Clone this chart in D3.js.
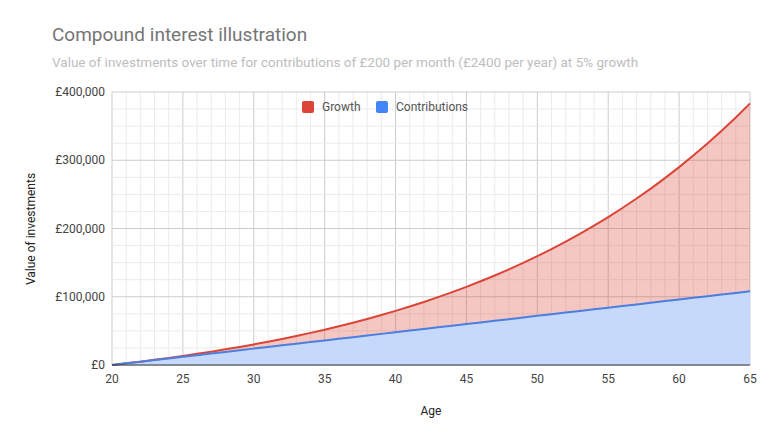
<!DOCTYPE html>
<meta charset="utf-8">
<style>
body{margin:0;background:#fff;font-family:Roboto,sans-serif;}
text{font-family:Roboto,sans-serif;}
</style>
<body>
<script src="https://d3js.org/d3.v7.min.js"></script>
<script>
var ages=d3.range(20,66);
var total=[0,2400,4920,7566,10344,13261,16325,19541,22918,26464,30187,34096,38201,42511,47037,51789,56778,62017,67518,73294,79358,85726,92413,99433,106805,114545,122672,131206,140166,149574,159453,169826,180717,192153,204161,216769,230007,243908,258503,273828,289919,306815,324556,343184,362743,383280];
var contributions=[0,2400,4800,7200,9600,12000,14400,16800,19200,21600,24000,26400,28800,31200,33600,36000,38400,40800,43200,45600,48000,50400,52800,55200,57600,60000,62400,64800,67200,69600,72000,74400,76800,79200,81600,84000,86400,88800,91200,93600,96000,98400,100800,103200,105600,108000];
var yTicks=[0,100000,200000,300000,400000];
var xTicks=[20,25,30,35,40,45,50,55,60,65];

var svg=d3.select("body").append("svg").attr("width",772).attr("height",441);
var x=d3.scaleLinear().domain([20,65]).range([112,750]);
var y=d3.scaleLinear().domain([0,400000]).range([365,92]);

svg.append("text").attr("x",52).attr("y",41).attr("font-size",19).attr("fill","#757575").text("Compound interest illustration");
svg.append("text").attr("x",52).attr("y",67).attr("font-size",13.5).attr("fill","#bdbdbd").text("Value of investments over time for contributions of £200 per month (£2400 per year) at 5% growth");

var grid=svg.append("g");
grid.selectAll(".vm").data(d3.range(20,66)).enter().append("line")
  .attr("x1",d=>x(d)).attr("x2",d=>x(d)).attr("y1",y(400000)).attr("y2",y(0))
  .attr("stroke",d=>d%5==0?"#cccccc":"#ebebeb");
grid.selectAll(".hm").data(d3.range(0,400001,25000)).enter().append("line")
  .attr("x1",x(20)).attr("x2",x(65)).attr("y1",d=>y(d)).attr("y2",d=>y(d))
  .attr("stroke",d=>d%100000==0?"#cccccc":"#ebebeb");

var area=function(vals){return d3.area().x((d,i)=>x(ages[i])).y0(y(0)).y1(d=>y(d))(vals);};
var line=function(vals){return d3.line().x((d,i)=>x(ages[i])).y(d=>y(d))(vals);};
svg.append("path").attr("d",area(total)).attr("fill","#db4437").attr("fill-opacity",0.3);
svg.append("path").attr("d",area(contributions)).attr("fill","#c6d9fb");
svg.append("path").attr("d",line(total)).attr("fill","none").attr("stroke","#db4437").attr("stroke-width",2);
svg.append("path").attr("d",line(contributions)).attr("fill","none").attr("stroke","#4a7fe0").attr("stroke-width",2);
svg.append("line").attr("x1",x(20)).attr("x2",x(65)).attr("y1",y(0)).attr("y2",y(0)).attr("stroke","#333");

svg.selectAll(".yt").data(yTicks).enter().append("text")
  .attr("x",105).attr("y",d=>y(d)+4).attr("text-anchor","end").attr("font-size",12).attr("fill","#444")
  .text(d=>"£"+d3.format(",")(d));
svg.selectAll(".xt").data(xTicks).enter().append("text")
  .attr("x",d=>x(d)).attr("y",383).attr("text-anchor","middle").attr("font-size",12).attr("fill","#444")
  .text(d=>d);
svg.append("text").attr("x",431).attr("y",415).attr("text-anchor","middle").attr("font-size",12).attr("fill","#222").text("Age");
svg.append("text").attr("transform","translate(35,229) rotate(-90)").attr("text-anchor","middle").attr("font-size",12).attr("fill","#222").text("Value of investments");

var legend=[["Growth","#db4437",302],["Contributions","#4285f4",376]];
legend.forEach(function(l){
  svg.append("rect").attr("x",l[2]).attr("y",101).attr("width",12).attr("height",12).attr("rx",2).attr("fill",l[1]);
  svg.append("text").attr("x",l[2]+20).attr("y",111).attr("font-size",12).attr("fill","#555").text(l[0]);
});
</script>
</body>
